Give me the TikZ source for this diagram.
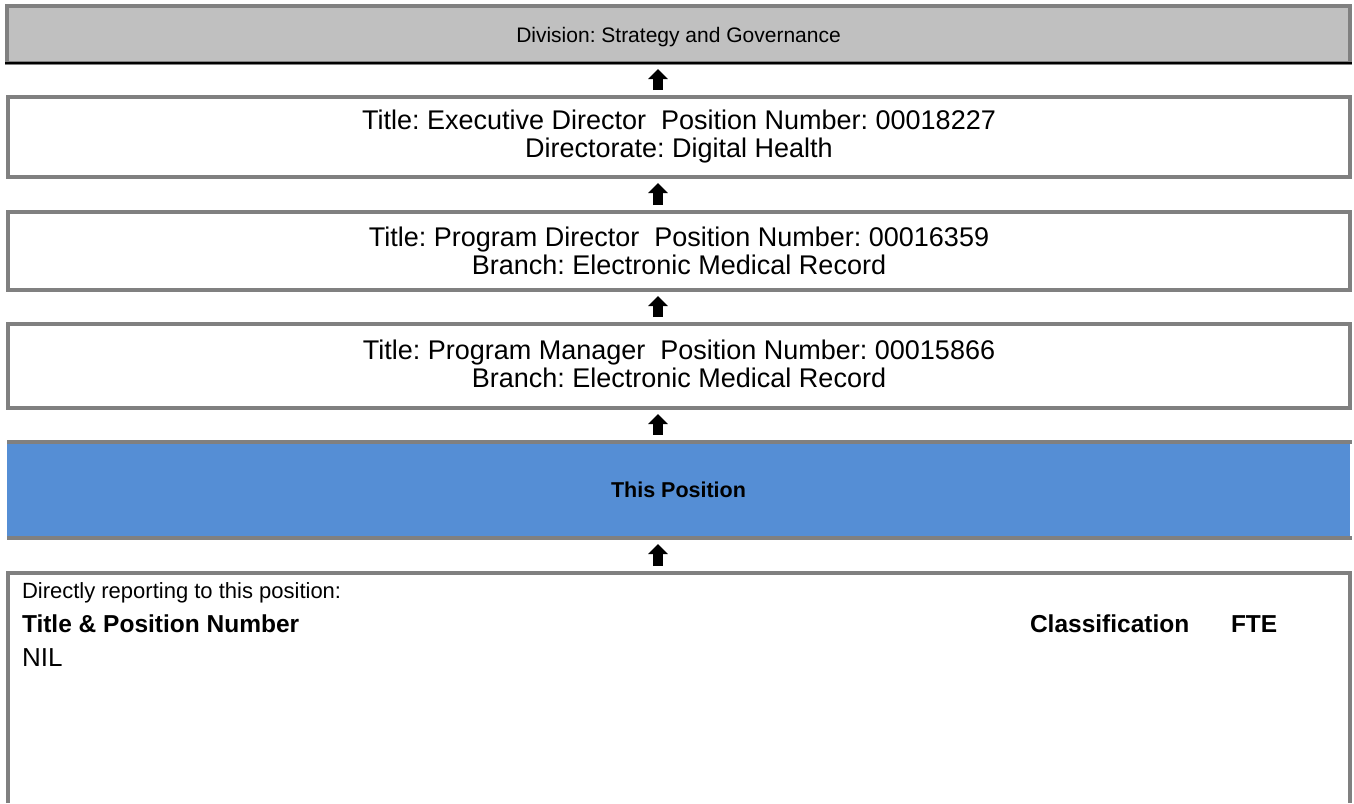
\documentclass[tikz,border=0pt]{standalone}
\usepackage{fontspec}
\setmainfont{Liberation Sans}
\usetikzlibrary{arrows.meta,calc}

\definecolor{bordergray}{RGB}{128,128,128}
\definecolor{divgray}{RGB}{192,192,192}
\definecolor{posblue}{RGB}{85,142,213}

\newcommand{\boxfont}{\fontsize{27}{28}\selectfont}
\newcommand{\headfont}{\fontsize{24.5}{28}\selectfont\bfseries}

\tikzset{
  orgbox/.style={rectangle, inner sep=0pt, outer sep=0pt, align=center,
    font=\boxfont},
  framed/.style={orgbox, draw=bordergray, line width=4pt},
  bar/.style={draw=bordergray, line width=4pt},
  uparrow/.style={line width=10pt, -{Triangle[width=19pt,length=10pt]},
    shorten <=7pt, shorten >=6pt},
  lbl/.style={inner sep=0pt, outer sep=0pt, anchor=base west}
}

\begin{document}
\frenchspacing
\begin{tikzpicture}[x=1pt,y=-1pt]
\useasboundingbox (0,0) rectangle (1354,803);

% reporting chain, top to bottom
\node[framed, fill=divgray, minimum width=1343pt, minimum height=57pt]
  (div) at (678.5,34.5) {};
\node[orgbox, font=\fontsize{21}{26}\selectfont] (divtext)
  at ([yshift=-3pt]div.center) {Division: Strategy and Governance};
\draw[black, line width=2.5pt] ([xshift=-2pt]div.south west) -- ([xshift=2pt]div.south east);

\node[framed, minimum width=1342pt, minimum height=80pt] (exec) at (679,137)
  {Title: Executive Director\ \ Position Number: 00018227\\Directorate: Digital Health};

\node[framed, minimum width=1342pt, minimum height=78pt] (pdir) at (679,251)
  {Title: Program Director\ \ Position Number: 00016359\\Branch: Electronic Medical Record};

\node[framed, minimum width=1342pt, minimum height=84pt] (pman) at (679,366) {};
\node[orgbox] (pmantext) at ([yshift=2pt]pman.center)
  {Title: Program Manager\ \ Position Number: 00015866\\Branch: Electronic Medical Record};

% the position itself
\node[orgbox, fill=posblue, minimum width=1343pt, minimum height=96.5pt,
  font=\fontsize{21.5}{26}\selectfont\bfseries] (this) at (678.5,489.75) {This Position};
\draw[bar] (this.north west) -- ([xshift=2pt]this.north east);
\draw[bar] (this.south west) -- ([xshift=2pt]this.south east);

% direct reports panel (runs off the page bottom)
\node[orgbox, minimum width=1342pt, minimum height=230pt] (rep) at (679,688) {};
\draw[bar, line join=miter] (rep.south west) -- (rep.north west) -- (rep.north east) -- (rep.south east);

\node[lbl, font=\fontsize{22}{26}\selectfont] (replead) at ($(rep.north west)+(14,25)$) {Directly reporting to this position:};
\node[lbl, font=\headfont] (colA) at ($(rep.north west)+(14,59)$) {Title \& Position Number};
\node[lbl, font=\headfont] (colB) at ($(rep.north west)+(1022,59)$) {Classification};
\node[lbl, font=\headfont] (colC) at ($(rep.north west)+(1223,59)$) {FTE};
\node[lbl, font=\fontsize{26}{28}\selectfont] (nil) at ($(rep.north west)+(14,93)$) {NIL};

% reporting arrows
\coordinate (ax) at (658,0);
\draw[uparrow] (exec.north -| ax) -- (div.south -| ax);
\draw[uparrow] (pdir.north -| ax) -- (exec.south -| ax);
\draw[uparrow] (pman.north -| ax) -- (pdir.south -| ax);
\draw[uparrow] (this.north -| ax) -- (pman.south -| ax);
\draw[uparrow] (rep.north -| ax) -- (this.south -| ax);
\end{tikzpicture}
\end{document}
